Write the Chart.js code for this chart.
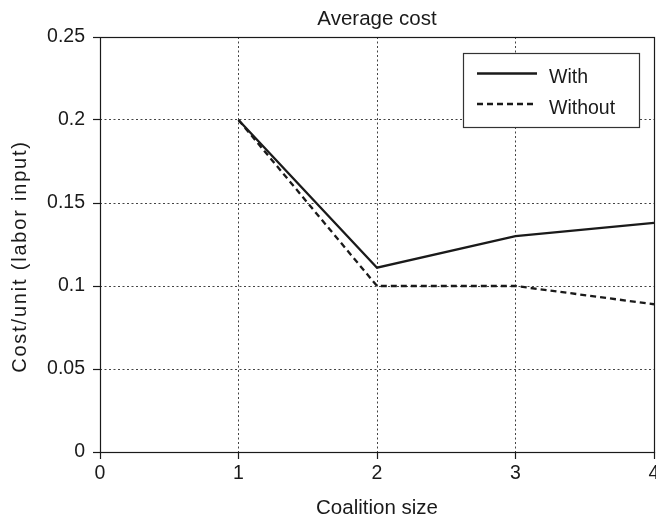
<!DOCTYPE html>
<html><head><meta charset="utf-8">
<script src="https://cdn.jsdelivr.net/npm/chart.js@4"></script>
<style>html,body{margin:0;padding:0;background:#fff}canvas{display:block}</style>
</head><body>
<canvas id="c" width="656" height="518"></canvas>
<script>
const coalitionSizes = [1, 2, 3, 4];
const costWith = [0.2, 0.111, 0.130, 0.138];
const costWithout = [0.2, 0.1, 0.1, 0.089];
const xTicks = [0, 1, 2, 3, 4];
const yTicks = [0, 0.05, 0.1, 0.15, 0.2, 0.25];
const seriesLabels = ['With', 'Without'];
const chartTitle = 'Average cost';
const xTitle = 'Coalition size';
const yTitle = 'Cost/unit (labor input)';

const FONT = "'Liberation Sans', Arial, Helvetica, sans-serif";
const INK = '#1a1a1a';

const toPts = ys => coalitionSizes.map((x, i) => ({x, y: ys[i]}));

const framePlugin = {
  id: 'frame',
  afterDraw(chart) {
    const {ctx, chartArea: a} = chart;
    ctx.save();
    // frame
    ctx.strokeStyle = INK;
    ctx.lineWidth = 1.2;
    ctx.setLineDash([]);
    ctx.strokeRect(Math.round(a.left) + 0.5, Math.round(a.top) + 0.5,
                   Math.round(a.right - a.left), Math.round(a.bottom - a.top));
    // title
    ctx.fillStyle = INK;
    ctx.font = `20.5px ${FONT}`;
    ctx.textAlign = 'center';
    ctx.textBaseline = 'alphabetic';
    const cx = (a.left + a.right) / 2;
    ctx.fillText(chartTitle, cx, 25);
    // x title
    ctx.fillText(xTitle, cx, 514);
    // y title
    ctx.save();
    ctx.translate(26, 256.5);
    ctx.rotate(-Math.PI / 2);
    ctx.font = `20px ${FONT}`;
    if ('letterSpacing' in ctx) ctx.letterSpacing = '1.8px';
    ctx.fillText(yTitle, 0, 0);
    ctx.restore();
    // legend
    const bx = a.right - 191, by = a.top + 16, bw = 176, bh = 74;
    ctx.fillStyle = '#fff';
    ctx.fillRect(bx, by, bw, bh);
    ctx.strokeStyle = '#333';
    ctx.lineWidth = 1.2;
    ctx.strokeRect(bx + 0.5, by + 0.5, bw, bh);
    const rows = [{y: by + 20.5}, {y: by + 51}];
    chart.data.datasets.forEach((ds, i) => {
      const r = rows[i];
      ctx.strokeStyle = INK;
      ctx.lineWidth = 2.3;
      ctx.setLineDash(ds.borderDash || []);
      ctx.beginPath();
      ctx.moveTo(bx + 14, r.y);
      ctx.lineTo(bx + 74, r.y);
      ctx.stroke();
      ctx.setLineDash([]);
      ctx.fillStyle = INK;
      ctx.font = `19.5px ${FONT}`;
      ctx.textAlign = 'left';
      ctx.textBaseline = 'alphabetic';
      ctx.fillText(ds.label, bx + 86, r.y + 9.5);
    });
    ctx.restore();
  }
};

const gridOpts = {color: '#444', lineWidth: 1, tickLength: 7,
                  tickColor: INK, tickBorderDash: [], tickWidth: 1.2, drawTicks: true};
const borderOpts = {display: false, dash: [2, 2.5]};

new Chart(document.getElementById('c'), {
  type: 'line',
  data: {
    datasets: [
      {label: seriesLabels[0], data: toPts(costWith), borderColor: INK, borderWidth: 2.3,
       pointRadius: 0, tension: 0, fill: false},
      {label: seriesLabels[1], data: toPts(costWithout), borderColor: INK, borderWidth: 2.3,
       borderDash: [6, 4], pointRadius: 0, tension: 0, fill: false}
    ]
  },
  options: {
    responsive: false,
    animation: false,
    devicePixelRatio: 1,
    layout: {padding: {top: 37, right: 2, left: 0, bottom: 0}},
    plugins: {legend: {display: false}, title: {display: false}, tooltip: {enabled: false}},
    scales: {
      x: {
        type: 'linear', min: 0, max: 4,
        afterBuildTicks: s => { s.ticks = xTicks.map(v => ({value: v})); },
        afterFit: s => { s.height = 66; s.paddingLeft = 0; s.paddingRight = 0; },
        ticks: {color: INK, font: {family: FONT, size: 19.5}, padding: 3, maxRotation: 0,
                autoSkip: false, callback: v => String(v)},
        grid: gridOpts,
        border: borderOpts
      },
      y: {
        type: 'linear', min: 0, max: 0.25,
        afterBuildTicks: s => { s.ticks = yTicks.map(v => ({value: v})); },
        afterFit: s => { s.width = 100; s.paddingTop = 0; s.paddingBottom = 0; },
        ticks: {color: INK, font: {family: FONT, size: 19.5}, padding: 8,
                autoSkip: false, callback: v => String(v)},
        grid: gridOpts,
        border: borderOpts
      }
    }
  },
  plugins: [framePlugin]
});
</script>
</body></html>
